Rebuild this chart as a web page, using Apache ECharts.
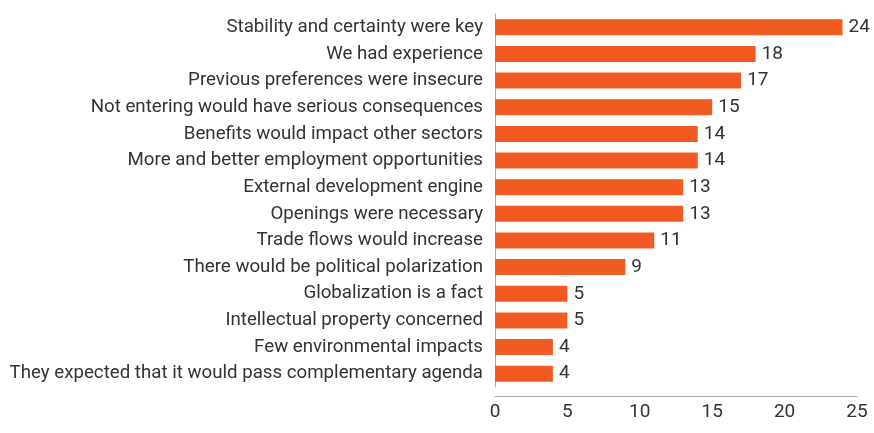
<!DOCTYPE html>
<html>
<head>
<meta charset="utf-8">
<script src="https://cdn.jsdelivr.net/npm/echarts@6/dist/echarts.min.js"></script>
<style>html,body{margin:0;padding:0;background:#fff}#c{width:874px;height:433px}</style>
</head>
<body>
<div id="c"></div>
<script>
const categories = [
  "Stability and certainty were key",
  "We had experience",
  "Previous preferences were insecure",
  "Not entering would have serious consequences",
  "Benefits would impact other sectors",
  "More and better employment opportunities",
  "External development engine",
  "Openings were necessary",
  "Trade flows would increase",
  "There would be political polarization",
  "Globalization is a fact",
  "Intellectual property concerned",
  "Few environmental impacts",
  "They expected that it would pass complementary agenda"
];
const values = [24, 18, 17, 15, 14, 14, 13, 13, 11, 9, 5, 5, 4, 4];
const xTicks = [0, 5, 10, 15, 20, 25];

const chart = echarts.init(document.getElementById('c'), null, {renderer: 'canvas'});
const FONT = 'Roboto';
chart.setOption({
  animation: false,
  grid: {left: 495, right: 17, top: 14, bottom: 46, containLabel: false},
  xAxis: {
    type: 'value', min: xTicks[0], max: xTicks[xTicks.length - 1], interval: 5,
    offset: 9,
    axisLine: {show: true, lineStyle: {color: '#aaa', width: 1}},
    axisTick: {show: false},
    splitLine: {show: false},
    axisLabel: {color: '#333', fontFamily: FONT, fontSize: 19, margin: 7}
  },
  yAxis: {
    type: 'category', data: categories, inverse: true,
    axisLine: {show: true, lineStyle: {color: '#aaa', width: 1}},
    axisTick: {show: false},
    axisLabel: {color: '#333', fontFamily: FONT, fontSize: 18.7, margin: 12}
  },
  series: [{
    type: 'bar', data: values, barWidth: 16,
    itemStyle: {color: '#F15A22'},
    label: {show: true, position: 'right', distance: 6, color: '#333', fontFamily: FONT, fontSize: 19}
  }]
});
</script>
</body>
</html>
